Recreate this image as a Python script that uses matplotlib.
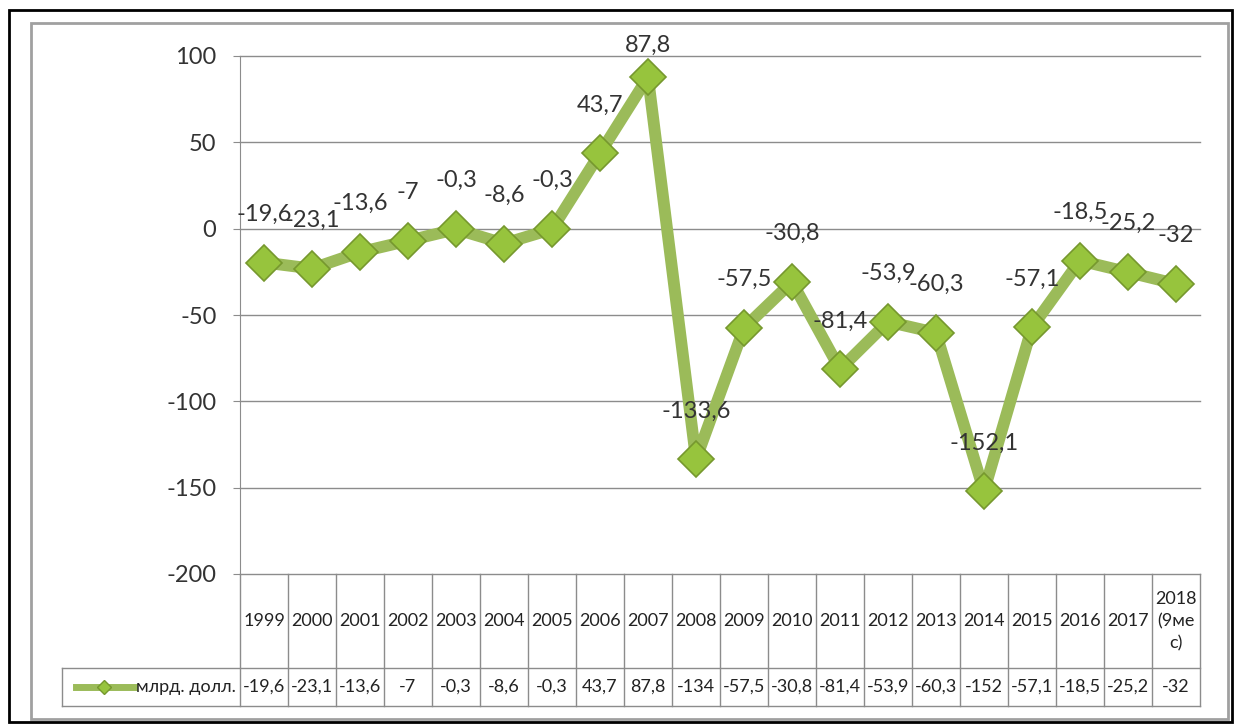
import matplotlib
matplotlib.use("Agg")
import matplotlib.pyplot as plt
from matplotlib.lines import Line2D
from matplotlib.patches import Rectangle

years = ["1999", "2000", "2001", "2002", "2003", "2004", "2005", "2006",
         "2007", "2008", "2009", "2010", "2011", "2012", "2013", "2014",
         "2015", "2016", "2017", "2018\n(9ме\nс)"]
values = [-19.6, -23.1, -13.6, -7, -0.3, -8.6, -0.3, 43.7, 87.8, -133.6,
          -57.5, -30.8, -81.4, -53.9, -60.3, -152.1, -57.1, -18.5, -25.2, -32]
series_name = "млрд. долл."
y_ticks = [100, 50, 0, -50, -100, -150, -200]

plt.rcParams["font.family"] = ["Lato", "DejaVu Sans"]

GREEN = "#9bbb59"
GRID = "#8c8c8c"
TXT = "#333333"


def label(v):
    return f"{v:g}".replace(".", ",")


def table_label(v):
    # the table cell is too narrow for 6 chars, Excel rounds those
    s = label(v)
    if len(s) > 5:
        s = f"{round(v):d}"
    return s


def main():
    W, H = 1237, 728
    fig = plt.figure(figsize=(W / 100, H / 100), dpi=100)

    # frames
    fig.patches.append(Rectangle((9 / W, 1 - 722 / H), 1223 / W, 712 / H,
                                 transform=fig.transFigure, fill=False,
                                 edgecolor="black", lw=2))
    fig.patches.append(Rectangle((31 / W, 1 - 719 / H), 1197 / W, 696 / H,
                                 transform=fig.transFigure, fill=False,
                                 edgecolor="#a0a0a0", lw=2))

    ax = fig.add_axes([240 / W, 1 - 574 / H, 960 / W, 518 / H])
    n = len(values)
    xs = list(range(n))
    ax.set_xlim(-0.5, n - 0.5)
    ax.set_ylim(-200, 100)
    ax.set_yticks(y_ticks)
    ax.set_yticklabels([str(t) for t in y_ticks], fontsize=17, color=TXT)
    ax.tick_params(axis="y", length=5, color=GRID, pad=12)
    ax.set_xticks([])
    for s in ["top", "right", "bottom"]:
        ax.spines[s].set_visible(False)
    ax.spines["left"].set_color(GRID)
    for t in y_ticks:
        ax.axhline(t, color=GRID, lw=1, zorder=0, clip_on=False)

    ax.plot(xs, values, color=GREEN, lw=8.5, zorder=2,
            solid_joinstyle="round", solid_capstyle="round")
    ax.plot(xs, values, ls="none", marker="D", markersize=18,
            markerfacecolor="#97c43d", markeredgecolor="#76982e",
            markeredgewidth=1.2, zorder=3)

    for x, v in zip(xs, values):
        ly = min(v + 28, 106)
        ax.text(x, ly, label(v), ha="center", va="center", fontsize=17,
                color=TXT, clip_on=False, zorder=4)

    # data table
    tr = ax.get_xaxis_transform()
    y_cat = -94 / 518
    y_dat = -132 / 518
    x_left = (62 - 240) / 960
    for i in range(n + 1):
        ax.plot([i - 0.5, i - 0.5], [0, y_dat], transform=tr, color=GRID,
                lw=1, clip_on=False)
    ax.plot([x_left, 1], [y_cat, y_cat], transform=ax.transAxes, color=GRID,
            lw=1, clip_on=False)
    ax.plot([x_left, 1], [y_dat, y_dat], transform=ax.transAxes, color=GRID,
            lw=1, clip_on=False)
    ax.plot([x_left, x_left], [y_cat, y_dat], transform=ax.transAxes,
            color=GRID, lw=1, clip_on=False)
    for x, lab, v in zip(xs, years, values):
        ax.text(x, y_cat / 2, lab, transform=tr, ha="center", va="center",
                fontsize=13, color="#222222", linespacing=1.45)
        ax.text(x, (y_cat + y_dat) / 2, table_label(v), transform=tr,
                ha="center", va="center", fontsize=13, color="#222222")

    ym = (y_cat + y_dat) / 2
    key = Line2D([(76 - 240) / 960, (134 - 240) / 960], [ym, ym],
                 transform=ax.transAxes, color=GREEN, lw=5, clip_on=False)
    ax.add_line(key)
    ax.plot([(104 - 240) / 960], [ym], transform=ax.transAxes, marker="D",
            markersize=7, markerfacecolor="#97c43d", markeredgecolor="#76982e",
            clip_on=False)
    ax.text(-4 / 960, ym, series_name, transform=ax.transAxes, ha="right",
            va="center", fontsize=13, color="#222222")

    fig.savefig("out.png", dpi=100)


if __name__ == "__main__":
    main()
